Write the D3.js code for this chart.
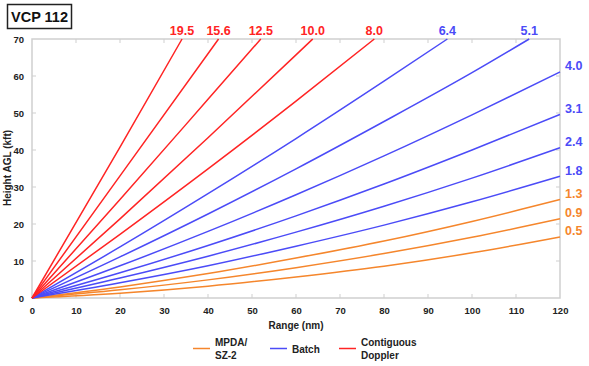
<!DOCTYPE html>
<html><head><meta charset="utf-8">
<script src="https://cdn.jsdelivr.net/npm/d3@7"></script>
<style>body{margin:0;background:#fff;} svg{display:block;font-family:"Liberation Sans",Arial,sans-serif;}</style>
</head><body>
<svg id="c" width="589" height="366"></svg>
<script>
// ---- data ----
const elevations = ["0.5","0.9","1.3","1.8","2.4","3.1","4.0","5.1","6.4","8.0","10.0","12.5","15.6","19.5"];
const beamGroup  = ["MPDA/SZ-2","MPDA/SZ-2","MPDA/SZ-2","Batch","Batch","Batch","Batch","Batch","Batch",
                    "Contiguous Doppler","Contiguous Doppler","Contiguous Doppler","Contiguous Doppler","Contiguous Doppler"];
const rangeGrid = [0, 20, 40, 60, 80, 100, 120];
// heights (kft) at rangeGrid; null = beam already above 70 kft
const beamHeights = [
  [0, 1.3, 3.2, 5.7, 8.6, 12.2, 16.5],
  [0, 2.2, 4.9, 8.2, 12.0, 16.4, 21.4],
  [0, 3.0, 6.6, 10.8, 15.4, 20.7, 26.6],
  [0, 4.1, 8.7, 14.0, 19.7, 26.0, 32.9],
  [0, 5.4, 11.3, 17.8, 24.8, 32.4, 40.6],
  [0, 6.8, 14.2, 22.2, 30.8, 40.0, 49.6],
  [0, 8.7, 18.0, 27.9, 38.4, 49.5, 61.1],
  [0, 11.1, 22.7, 34.9, 47.7, 60.9, null],
  [0, 13.8, 28.2, 43.1, 58.6, null, null],
  [0, 17.2, 34.9, 53.2, null, null, null],
  [0, 21.4, 43.3, 65.7, null, null, null],
  [0, 26.6, 53.7, null, null, null, null],
  [0, 33.0, null, null, null, null, null],
  [0, 40.8, null, null, null, null, null]
];
// range (nm) where the beam leaves the top of the chart (70 kft); null = reaches 120 nm
const topExitRange = [null, null, null, null, null, null, null, 113.0, 94.4, 77.8, 63.8, 52.0, 42.4, 34.1];
const xTicks = [0,10,20,30,40,50,60,70,80,90,100,110,120];
const yTicks = [0,10,20,30,40,50,60,70];
const legendItems = [["MPDA/","SZ-2"],["Batch"],["Contiguous","Doppler"]];
const legendGroups = ["MPDA/SZ-2","Batch","Contiguous Doppler"];
const groupColors = ["#f5862c","#4b4bf7","#ff2424"];
const titleText = "VCP 112";

// ---- drawing ----
const svg = d3.select("#c");
const m = {l:32, r:560, t:39, b:298};
const x = d3.scaleLinear().domain([0,120]).range([m.l, m.r]);
const y = d3.scaleLinear().domain([0,70]).range([m.b, m.t]);
const color = d3.scaleOrdinal().domain(legendGroups).range(groupColors);
const frame = "#cfcfcf", txt = "#222";

// frame
svg.append("rect").attr("x",m.l).attr("y",m.t).attr("width",m.r-m.l).attr("height",m.b-m.t)
  .attr("fill","none").attr("stroke",frame).attr("stroke-width",1.5);

// axes with inward ticks
const fmt = d3.format("d");
const bottom = svg.append("g").attr("transform",`translate(0,${m.b})`)
  .call(d3.axisBottom(x).tickValues(xTicks).tickFormat(fmt).tickSize(0).tickPadding(9));
const left = svg.append("g").attr("transform",`translate(${m.l},0)`)
  .call(d3.axisLeft(y).tickValues(yTicks).tickFormat(fmt).tickSize(0).tickPadding(8));
[bottom,left].forEach(g=>{
  g.select(".domain").remove();
  g.selectAll("text").attr("fill",txt).attr("font-weight","bold").attr("font-size","9.5px");
});
const tk = svg.append("g").attr("stroke",frame).attr("stroke-width",1);
xTicks.slice(1,-1).forEach(v=>{
  tk.append("line").attr("x1",x(v)).attr("x2",x(v)).attr("y1",m.b).attr("y2",m.b-4);
  tk.append("line").attr("x1",x(v)).attr("x2",x(v)).attr("y1",m.t).attr("y2",m.t+4);
});
yTicks.slice(1,-1).forEach(v=>{
  tk.append("line").attr("x1",m.l).attr("x2",m.l+4).attr("y1",y(v)).attr("y2",y(v));
  tk.append("line").attr("x1",m.r).attr("x2",m.r-4).attr("y1",y(v)).attr("y2",y(v));
});

// axis titles
svg.append("text").attr("x",296).attr("y",329).attr("text-anchor","middle")
  .attr("font-size","10px").attr("font-weight","bold").attr("fill",txt).text("Range (nm)");
svg.append("text").attr("transform","translate(11,168) rotate(-90)").attr("text-anchor","middle")
  .attr("font-size","10px").attr("font-weight","bold").attr("fill",txt).text("Height AGL (kft)");

// beams
const line = d3.line().x(d=>x(d[0])).y(d=>y(d[1])).curve(d3.curveMonotoneX);
const beams = svg.append("g");
elevations.forEach((el,i)=>{
  const pts = [];
  rangeGrid.forEach((r,j)=>{ if (beamHeights[i][j] !== null) pts.push([r, beamHeights[i][j]]); });
  if (topExitRange[i] !== null) pts.push([topExitRange[i], 70]);
  const c = color(beamGroup[i]);
  beams.append("path").attr("d",line(pts)).attr("fill","none").attr("stroke",c).attr("stroke-width",1.5);
  const last = pts[pts.length-1];
  if (topExitRange[i] !== null) {
    svg.append("text").attr("x",x(last[0])).attr("y",y(70)-4).attr("text-anchor","middle")
      .attr("font-size","12.5px").attr("font-weight","bold").attr("fill",c).text(el);
  } else {
    svg.append("text").attr("x",x(120)+5).attr("y",y(last[1])-1.5).attr("text-anchor","start")
      .attr("font-size","12.5px").attr("font-weight","bold").attr("fill",c).text(el);
  }
});

// title box
svg.append("rect").attr("x",7.5).attr("y",4.5).attr("width",64).attr("height",24)
  .attr("fill","#fff").attr("stroke","#222").attr("stroke-width",1.5);
svg.append("text").attr("x",39.5).attr("y",22).attr("text-anchor","middle")
  .attr("font-size","14.5px").attr("font-weight","bold").attr("fill","#111").text(titleText);

// legend
const legX = [193, 270, 339];
legendGroups.forEach((g,i)=>{
  const lg = svg.append("g");
  lg.append("line").attr("x1",legX[i]).attr("x2",legX[i]+17).attr("y1",348.5).attr("y2",348.5)
    .attr("stroke",color(g)).attr("stroke-width",1.5);
  const lines = legendItems[i];
  const t = lg.append("text").attr("font-size","10px").attr("font-weight","bold").attr("fill",txt);
  lines.forEach((s,k)=>{
    const yy = lines.length===1 ? 352.5 : 345.5 + k*13;
    t.append("tspan").attr("x",legX[i]+22).attr("y",yy).text(s);
  });
});
</script>
</body></html>
